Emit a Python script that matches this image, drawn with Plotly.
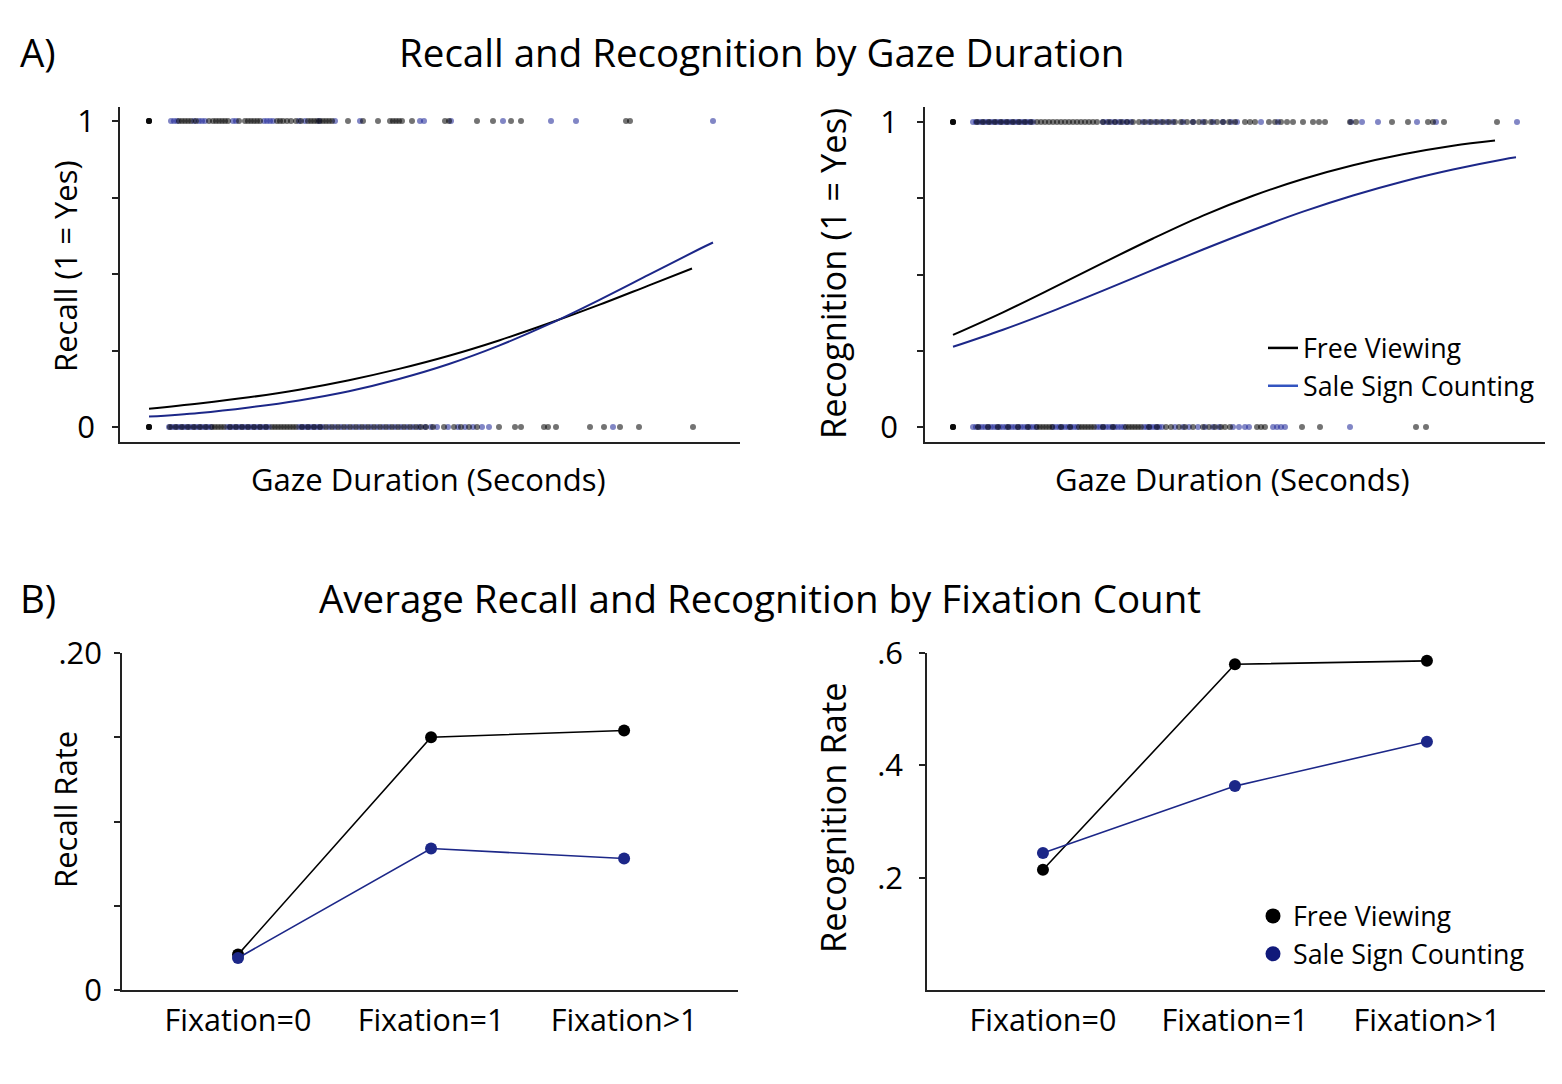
import plotly.graph_objects as go

W, H = 1562, 1084

# ---------------- data (panel A) ----------------
# fitted curves: gaze duration (s) -> predicted probability
recall_curve_x_fv = [0, 0.5, 1.0, 1.5, 2.0, 2.5, 3.0, 3.5, 4.0, 4.5, 5.0, 5.43]
recall_curve_fv = [0.060, 0.077, 0.097, 0.122, 0.153, 0.190, 0.233, 0.283, 0.339, 0.399, 0.463, 0.518]
recall_curve_x_ssc = [0, 0.5, 1.0, 1.5, 2.0, 2.5, 3.0, 3.5, 4.0, 4.5, 5.0, 5.5, 5.64]
recall_curve_ssc = [0.034, 0.046, 0.064, 0.087, 0.117, 0.157, 0.206, 0.266, 0.336, 0.415, 0.498, 0.581, 0.603]

recog_curve_x_fv = [0, 0.5, 1.0, 1.5, 2.0, 2.5, 3.0, 3.5, 4.0, 4.5, 5.0, 5.42]
recog_curve_fv = [0.302, 0.376, 0.456, 0.538, 0.618, 0.693, 0.758, 0.813, 0.858, 0.894, 0.922, 0.939]
recog_curve_x_ssc = [0, 0.5, 1.0, 1.5, 2.0, 2.5, 3.0, 3.5, 4.0, 4.5, 5.0, 5.5, 5.63]
recog_curve_ssc = [0.263, 0.319, 0.381, 0.447, 0.515, 0.582, 0.646, 0.706, 0.759, 0.805, 0.844, 0.877, 0.884]

# observed gaze durations (s), split by outcome
recall_yes_fv = [0, 0, 0, 0, 0.30, 0.33, 0.36, 0.39, 0.42, 0.47, 0.60, 0.64, 0.67, 0.70, 0.73, 0.76, 0.79,
                 0.90, 0.96, 0.99, 1.02, 1.05, 1.08, 1.11, 1.28, 1.31, 1.34, 1.38, 1.42, 1.47, 1.52, 1.59,
                 1.62, 1.65, 1.68, 1.71, 1.74, 1.77, 1.80, 1.83, 1.99, 2.14, 2.29, 2.41, 2.44, 2.47, 2.50,
                 2.53, 2.63, 2.96, 3.00, 3.28, 3.44, 3.62, 3.72, 4.77, 4.81]
recall_yes_ssc = [0.22, 0.25, 0.28, 0.45, 0.50, 0.53, 0.56, 0.84, 0.87, 1.15, 1.18, 1.21, 1.24, 1.50, 1.56,
                  1.70, 1.86, 2.11, 2.71, 2.75, 3.02, 3.54, 4.02, 4.27, 5.64]
recall_no_fv = [0, 0, 0, 0, 0.21, 0.27, 0.33, 0.39, 0.45, 0.51, 0.57, 0.63, 0.66, 0.69, 0.72, 0.75, 0.81,
                0.87, 0.93, 0.99, 1.05, 1.11, 1.17, 1.23, 1.26, 1.29, 1.32, 1.35, 1.38, 1.41, 1.44, 1.47,
                1.53, 1.59, 1.65, 1.71, 1.77, 1.83, 1.89, 1.95, 2.01, 2.07, 2.13, 2.19, 2.25, 2.31, 2.37,
                2.43, 2.49, 2.55, 2.61, 2.67, 2.72, 2.77, 2.84, 2.95, 3.05, 3.12, 3.20, 3.28, 3.50, 3.66,
                3.72, 3.95, 3.99, 4.07, 4.41, 4.55, 4.71, 4.90, 5.44]
recall_no_ssc = [0.20, 0.23, 0.26, 0.29, 0.32, 0.35, 0.38, 0.41, 0.44, 0.47, 0.50, 0.53, 0.56, 0.59, 0.62,
                 0.78, 0.81, 0.84, 0.87, 0.90, 0.93, 0.96, 0.99, 1.02, 1.05, 1.08, 1.11, 1.14, 1.17, 1.20,
                 1.50, 1.53, 1.56, 1.59, 1.62, 1.65, 1.68, 1.71, 1.74, 1.80, 1.86, 1.92, 1.98, 2.04, 2.10,
                 2.16, 2.22, 2.28, 2.34, 2.40, 2.46, 2.52, 2.58, 2.64, 2.70, 2.76, 2.82, 2.88, 2.99, 3.09,
                 3.16, 3.24, 3.33, 3.40, 4.64]

recog_yes_fv = [0, 0, 0, 0, 0.24, 0.30, 0.36, 0.42, 0.48, 0.54, 0.60, 0.66, 0.72, 0.78, 0.84, 0.88, 0.92,
                0.96, 1.00, 1.04, 1.08, 1.12, 1.16, 1.20, 1.24, 1.28, 1.32, 1.36, 1.40, 1.44, 1.50, 1.56,
                1.62, 1.68, 1.74, 1.80, 1.86, 1.92, 1.98, 2.04, 2.10, 2.16, 2.22, 2.28, 2.34, 2.40, 2.46,
                2.52, 2.58, 2.64, 2.70, 2.76, 2.82, 2.92, 2.97, 3.02, 3.16, 3.22, 3.28, 3.34, 3.40, 3.50,
                3.60, 3.66, 3.72, 3.97, 4.03, 4.39, 4.55, 4.75, 4.80, 4.91, 5.44]
recog_yes_ssc = [0.20, 0.23, 0.26, 0.29, 0.32, 0.35, 0.38, 0.41, 0.44, 0.47, 0.50, 0.53, 0.56, 0.59, 0.62,
                 0.65, 0.68, 0.71, 0.74, 0.77, 0.80, 1.50, 1.54, 1.58, 1.62, 1.66, 1.70, 1.74, 1.78, 1.90,
                 1.96, 2.02, 2.08, 2.14, 2.20, 2.30, 2.40, 2.50, 2.60, 2.70, 2.78, 2.84, 3.08, 3.25, 3.98,
                 4.09, 4.25, 4.64, 4.83, 5.64]
recog_no_fv = [0, 0, 0, 0, 0.25, 0.35, 0.45, 0.55, 0.65, 0.75, 0.84, 0.87, 0.90, 0.93, 0.96, 0.99, 1.08,
               1.17, 1.26, 1.29, 1.32, 1.35, 1.38, 1.41, 1.50, 1.60, 1.73, 1.76, 1.79, 1.82, 1.85, 1.88,
               1.96, 2.04, 2.13, 2.18, 2.26, 2.32, 2.40, 2.50, 2.56, 2.62, 2.68, 2.72, 2.77, 3.04, 3.08,
               3.12, 3.49, 3.67, 4.63, 4.73]
recog_no_ssc = [0.20, 0.23, 0.26, 0.29, 0.32, 0.35, 0.38, 0.41, 0.44, 0.47, 0.50, 0.53, 0.56, 0.59, 0.62,
                0.65, 0.68, 0.71, 0.74, 0.77, 0.80, 0.83, 1.00, 1.03, 1.06, 1.09, 1.12, 1.15, 1.18, 1.21,
                1.24, 1.44, 1.47, 1.50, 1.53, 1.56, 1.59, 1.62, 1.65, 1.68, 1.71, 1.91, 1.94, 1.97, 2.00,
                2.03, 2.06, 2.09, 2.22, 2.30, 2.36, 2.45, 2.52, 2.60, 2.66, 2.80, 2.86, 2.92, 2.96, 3.20,
                3.24, 3.28, 3.32, 3.97]

# ---------------- data (panel B) ----------------
fixation_categories = ["Fixation=0", "Fixation=1", "Fixation>1"]
recall_rate_fv = [0.021, 0.150, 0.154]
recall_rate_ssc = [0.019, 0.084, 0.078]
recog_rate_fv = [0.214, 0.580, 0.586]
recog_rate_ssc = [0.244, 0.363, 0.442]

series_names = ["Free Viewing", "Sale Sign Counting"]

# ---------------- styling ----------------
FONT = "Open Sans"
BLACK = "#000000"
NAVY = "#1c2788"
NAVY_LEG = "#3354c0"
PT_BLACK = "rgba(0,0,0,0.55)"
PT_NAVY = "rgba(25,35,150,0.55)"
AX = "#222222"

fig = go.Figure()


def strip(xs, yval, color, xa, ya):
    fig.add_trace(go.Scatter(x=xs, y=[yval] * len(xs), mode="markers", xaxis=xa, yaxis=ya,
                             marker=dict(size=6, color=color, line=dict(width=0)),
                             showlegend=False, hoverinfo="skip"))


# Panel A left (recall)
strip(recall_yes_ssc, 1, PT_NAVY, "x", "y")
strip(recall_no_ssc, 0, PT_NAVY, "x", "y")
strip(recall_yes_fv, 1, PT_BLACK, "x", "y")
strip(recall_no_fv, 0, PT_BLACK, "x", "y")
fig.add_trace(go.Scatter(x=recall_curve_x_fv, y=recall_curve_fv, mode="lines", line=dict(color=BLACK, width=2, shape="spline"),
                         xaxis="x", yaxis="y", showlegend=False))
fig.add_trace(go.Scatter(x=recall_curve_x_ssc, y=recall_curve_ssc, mode="lines", line=dict(color=NAVY, width=2, shape="spline"),
                         xaxis="x", yaxis="y", showlegend=False))

# Panel A right (recognition)
strip(recog_yes_ssc, 1, PT_NAVY, "x2", "y2")
strip(recog_no_ssc, 0, PT_NAVY, "x2", "y2")
strip(recog_yes_fv, 1, PT_BLACK, "x2", "y2")
strip(recog_no_fv, 0, PT_BLACK, "x2", "y2")
fig.add_trace(go.Scatter(x=recog_curve_x_fv, y=recog_curve_fv, mode="lines", line=dict(color=BLACK, width=2, shape="spline"),
                         xaxis="x2", yaxis="y2", showlegend=False))
fig.add_trace(go.Scatter(x=recog_curve_x_ssc, y=recog_curve_ssc, mode="lines", line=dict(color=NAVY, width=2, shape="spline"),
                         xaxis="x2", yaxis="y2", showlegend=False))

# legend entries for panel A
fig.add_trace(go.Scatter(x=[None], y=[None], mode="lines", name=series_names[0], line=dict(color=BLACK, width=2.5),
                         xaxis="x2", yaxis="y2", legend="legend"))
fig.add_trace(go.Scatter(x=[None], y=[None], mode="lines", name=series_names[1], line=dict(color=NAVY_LEG, width=2.5),
                         xaxis="x2", yaxis="y2", legend="legend"))

# Panel B
xi = [0, 1, 2]
for ys, col, xa, ya in [(recall_rate_fv, BLACK, "x3", "y3"), (recall_rate_ssc, NAVY, "x3", "y3"),
                        (recog_rate_fv, BLACK, "x4", "y4"), (recog_rate_ssc, NAVY, "x4", "y4")]:
    fig.add_trace(go.Scatter(x=xi, y=ys, mode="lines+markers", xaxis=xa, yaxis=ya,
                             line=dict(color=col, width=1.6), marker=dict(size=12, color=col),
                             showlegend=False, hoverinfo="skip"))
fig.add_trace(go.Scatter(x=[None], y=[None], mode="markers", name=series_names[0], marker=dict(size=15, color=BLACK),
                         xaxis="x4", yaxis="y4", legend="legend2"))
fig.add_trace(go.Scatter(x=[None], y=[None], mode="markers", name=series_names[1], marker=dict(size=15, color="#10197a"),
                         xaxis="x4", yaxis="y4", legend="legend2"))


def px_x(p):
    return p / W


def px_y(p):
    return 1 - p / H


def tfont(size):
    return dict(family=FONT, size=size, color="#000")


common_x = dict(showline=True, linecolor=AX, linewidth=1.5, showgrid=False, zeroline=False, automargin=False)
common_y = dict(showline=True, linecolor=AX, linewidth=1.5, showgrid=False, zeroline=False, automargin=False,
                ticks="outside", ticklen=6, tickcolor=AX, tickwidth=1.5, tickfont=tfont(31))

fig.update_layout(
    width=W, height=H, autosize=False,
    margin=dict(l=0, r=0, t=0, b=0, pad=0),
    paper_bgcolor="white", plot_bgcolor="white",
    font=dict(family=FONT, color="#000"),
    xaxis=dict(domain=[px_x(120), px_x(740)], range=[-0.29, 5.91], showticklabels=False, ticks="", anchor="y", **common_x),
    yaxis=dict(domain=[px_y(442), px_y(107)], range=[-0.049, 1.046], anchor="x",
               tickvals=[0, 0.25, 0.5, 0.75, 1], ticktext=["0", "", "", "", "1"], ticklabelstandoff=11, **common_y),
    xaxis2=dict(domain=[px_x(925), px_x(1545)], range=[-0.28, 5.92], showticklabels=False, ticks="", anchor="y2", **common_x),
    yaxis2=dict(domain=[px_y(442), px_y(107)], range=[-0.049, 1.049], anchor="x2",
                tickvals=[0, 0.25, 0.5, 0.75, 1], ticktext=["0", "", "", "", "1"], ticklabelstandoff=13, **common_y),
    xaxis3=dict(domain=[px_x(122), px_x(738)], range=[-0.601, 2.59], anchor="y3", tickvals=xi, ticktext=fixation_categories,
                ticks="", tickfont=tfont(30.5), ticklabelstandoff=3, **common_x),
    yaxis3=dict(domain=[px_y(990), px_y(653)], range=[0, 0.2], anchor="x3",
                tickvals=[0, 0.05, 0.1, 0.15, 0.2], ticktext=["0", "", "", "", ".20"], ticklabelstandoff=6, **common_y),
    xaxis4=dict(domain=[px_x(927), px_x(1545)], range=[-0.604, 2.615], anchor="y4", tickvals=xi, ticktext=fixation_categories,
                ticks="", tickfont=tfont(30.5), ticklabelstandoff=3, **common_x),
    yaxis4=dict(domain=[px_y(990), px_y(653)], range=[0, 0.6], anchor="x4",
                tickvals=[0.2, 0.4, 0.6], ticktext=[".2", ".4", ".6"], ticklabelstandoff=10, **common_y),
    legend=dict(x=px_x(1263), y=px_y(324), xanchor="left", yanchor="top", font=tfont(26.8),
                itemwidth=30, bgcolor="rgba(0,0,0,0)", tracegroupgap=0),
    legend2=dict(x=px_x(1253), y=px_y(892), xanchor="left", yanchor="top", font=tfont(26.8),
                 itemwidth=30, bgcolor="rgba(0,0,0,0)", tracegroupgap=0),
)

ann = [
    ("A)", 18, 52, 38.5, 0, "left"),
    ("Recall and Recognition by Gaze Duration", 761, 52, 38.5, 0, "center"),
    ("B)", 18, 598, 38.5, 0, "left"),
    ("Average Recall and Recognition by Fixation Count", 760, 598, 38.5, 0, "center"),
    ("Recall (1 = Yes)", 65, 266, 31, -90, "center"),
    ("Recognition (1 = Yes)", 832, 274, 34.5, -90, "center"),
    ("Gaze Duration (Seconds)", 428, 479, 31, 0, "center"),
    ("Gaze Duration (Seconds)", 1232, 479, 31, 0, "center"),
    ("Recall Rate", 65, 810, 31, -90, "center"),
    ("Recognition Rate", 832, 818, 34.5, -90, "center"),
]
for text, x, y, size, ang, xa in ann:
    fig.add_annotation(text=text, x=px_x(x), y=px_y(y), xref="paper", yref="paper", showarrow=False,
                       xanchor=xa, yanchor="middle", textangle=ang, font=tfont(size))

fig.write_html("out.html", config={"displayModeBar": False},
               post_script="document.body.style.margin='0';")
